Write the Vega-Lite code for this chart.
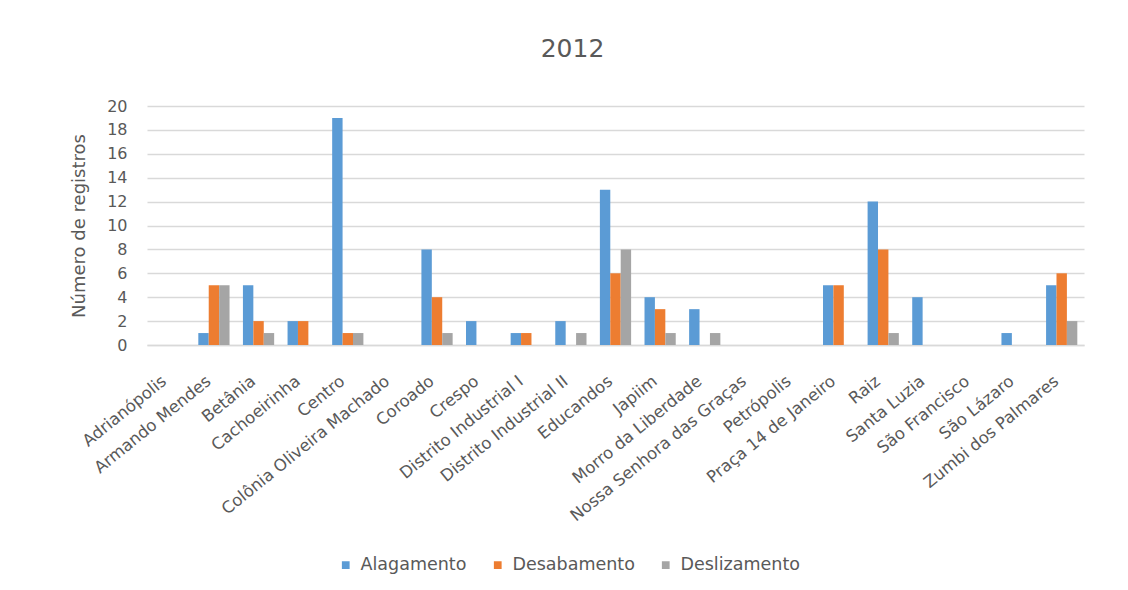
{
  "$schema": "https://vega.github.io/schema/vega-lite/v6.json",
  "autosize": {"type": "none"},
  "width": 937,
  "height": 239,
  "padding": {"left": 147, "top": 106, "right": 44, "bottom": 245},
  "background": "white",
  "title": {"text": "2012", "fontSize": 25, "font": "DejaVu Sans", "fontWeight": "normal", "color": "#595959", "offset": 36, "dx": -43},
  "data": {"values": [
    {"b": "Adrianópolis", "t": "Alagamento", "v": 0}, {"b": "Adrianópolis", "t": "Desabamento", "v": 0}, {"b": "Adrianópolis", "t": "Deslizamento", "v": 0},
    {"b": "Armando Mendes", "t": "Alagamento", "v": 1}, {"b": "Armando Mendes", "t": "Desabamento", "v": 5}, {"b": "Armando Mendes", "t": "Deslizamento", "v": 5},
    {"b": "Betânia", "t": "Alagamento", "v": 5}, {"b": "Betânia", "t": "Desabamento", "v": 2}, {"b": "Betânia", "t": "Deslizamento", "v": 1},
    {"b": "Cachoeirinha", "t": "Alagamento", "v": 2}, {"b": "Cachoeirinha", "t": "Desabamento", "v": 2}, {"b": "Cachoeirinha", "t": "Deslizamento", "v": 0},
    {"b": "Centro", "t": "Alagamento", "v": 19}, {"b": "Centro", "t": "Desabamento", "v": 1}, {"b": "Centro", "t": "Deslizamento", "v": 1},
    {"b": "Colônia Oliveira Machado", "t": "Alagamento", "v": 0}, {"b": "Colônia Oliveira Machado", "t": "Desabamento", "v": 0}, {"b": "Colônia Oliveira Machado", "t": "Deslizamento", "v": 0},
    {"b": "Coroado", "t": "Alagamento", "v": 8}, {"b": "Coroado", "t": "Desabamento", "v": 4}, {"b": "Coroado", "t": "Deslizamento", "v": 1},
    {"b": "Crespo", "t": "Alagamento", "v": 2}, {"b": "Crespo", "t": "Desabamento", "v": 0}, {"b": "Crespo", "t": "Deslizamento", "v": 0},
    {"b": "Distrito Industrial I", "t": "Alagamento", "v": 1}, {"b": "Distrito Industrial I", "t": "Desabamento", "v": 1}, {"b": "Distrito Industrial I", "t": "Deslizamento", "v": 0},
    {"b": "Distrito Industrial II", "t": "Alagamento", "v": 2}, {"b": "Distrito Industrial II", "t": "Desabamento", "v": 0}, {"b": "Distrito Industrial II", "t": "Deslizamento", "v": 1},
    {"b": "Educandos", "t": "Alagamento", "v": 13}, {"b": "Educandos", "t": "Desabamento", "v": 6}, {"b": "Educandos", "t": "Deslizamento", "v": 8},
    {"b": "Japiim", "t": "Alagamento", "v": 4}, {"b": "Japiim", "t": "Desabamento", "v": 3}, {"b": "Japiim", "t": "Deslizamento", "v": 1},
    {"b": "Morro da Liberdade", "t": "Alagamento", "v": 3}, {"b": "Morro da Liberdade", "t": "Desabamento", "v": 0}, {"b": "Morro da Liberdade", "t": "Deslizamento", "v": 1},
    {"b": "Nossa Senhora das Graças", "t": "Alagamento", "v": 0}, {"b": "Nossa Senhora das Graças", "t": "Desabamento", "v": 0}, {"b": "Nossa Senhora das Graças", "t": "Deslizamento", "v": 0},
    {"b": "Petrópolis", "t": "Alagamento", "v": 0}, {"b": "Petrópolis", "t": "Desabamento", "v": 0}, {"b": "Petrópolis", "t": "Deslizamento", "v": 0},
    {"b": "Praça 14 de Janeiro", "t": "Alagamento", "v": 5}, {"b": "Praça 14 de Janeiro", "t": "Desabamento", "v": 5}, {"b": "Praça 14 de Janeiro", "t": "Deslizamento", "v": 0},
    {"b": "Raiz", "t": "Alagamento", "v": 12}, {"b": "Raiz", "t": "Desabamento", "v": 8}, {"b": "Raiz", "t": "Deslizamento", "v": 1},
    {"b": "Santa Luzia", "t": "Alagamento", "v": 4}, {"b": "Santa Luzia", "t": "Desabamento", "v": 0}, {"b": "Santa Luzia", "t": "Deslizamento", "v": 0},
    {"b": "São Francisco", "t": "Alagamento", "v": 0}, {"b": "São Francisco", "t": "Desabamento", "v": 0}, {"b": "São Francisco", "t": "Deslizamento", "v": 0},
    {"b": "São Lázaro", "t": "Alagamento", "v": 1}, {"b": "São Lázaro", "t": "Desabamento", "v": 0}, {"b": "São Lázaro", "t": "Deslizamento", "v": 0},
    {"b": "Zumbi dos Palmares", "t": "Alagamento", "v": 5}, {"b": "Zumbi dos Palmares", "t": "Desabamento", "v": 6}, {"b": "Zumbi dos Palmares", "t": "Deslizamento", "v": 2}
  ]},
  "mark": {"type": "bar", "strokeWidth": 0},
  "encoding": {
    "x": {"field": "b", "type": "nominal", "sort": null, "title": null,
      "scale": {"paddingInner": 0.3, "paddingOuter": 0.15},
      "axis": {"labelAngle": -39, "labelAlign": "right", "labelBaseline": "bottom", "labelFont": "DejaVu Sans", "labelFontSize": 16.5, "labelColor": "#595959", "ticks": false, "domainColor": "#D9D9D9", "domainWidth": 1.5, "labelPadding": 40, "labelLimit": 400}},
    "xOffset": {"field": "t", "type": "nominal"},
    "y": {"field": "v", "type": "quantitative", "title": "Número de registros",
      "scale": {"domain": [0, 20]},
      "axis": {"values": [0, 2, 4, 6, 8, 10, 12, 14, 16, 18, 20], "domain": false, "ticks": false, "gridColor": "#D9D9D9", "gridWidth": 1.5, "labelFont": "DejaVu Sans", "labelFontSize": 16, "labelColor": "#595959", "labelPadding": 20, "titleFont": "DejaVu Sans", "titleFontSize": 18, "titleFontWeight": "normal", "titleColor": "#595959", "titlePadding": 18}},
    "color": {"field": "t", "type": "nominal", "title": null,
      "scale": {"domain": ["Alagamento", "Desabamento", "Deslizamento"], "range": ["#5B9BD5", "#ED7D31", "#A5A5A5"]},
      "legend": {"orient": "none", "direction": "horizontal", "legendX": 190, "legendY": 450, "symbolType": "square", "symbolSize": 60, "symbolStrokeWidth": 0, "labelFont": "DejaVu Sans", "labelFontSize": 17.5, "labelColor": "#595959", "columnPadding": 22, "labelOffset": 6}}
  },
  "config": {"view": {"stroke": null}}
}
